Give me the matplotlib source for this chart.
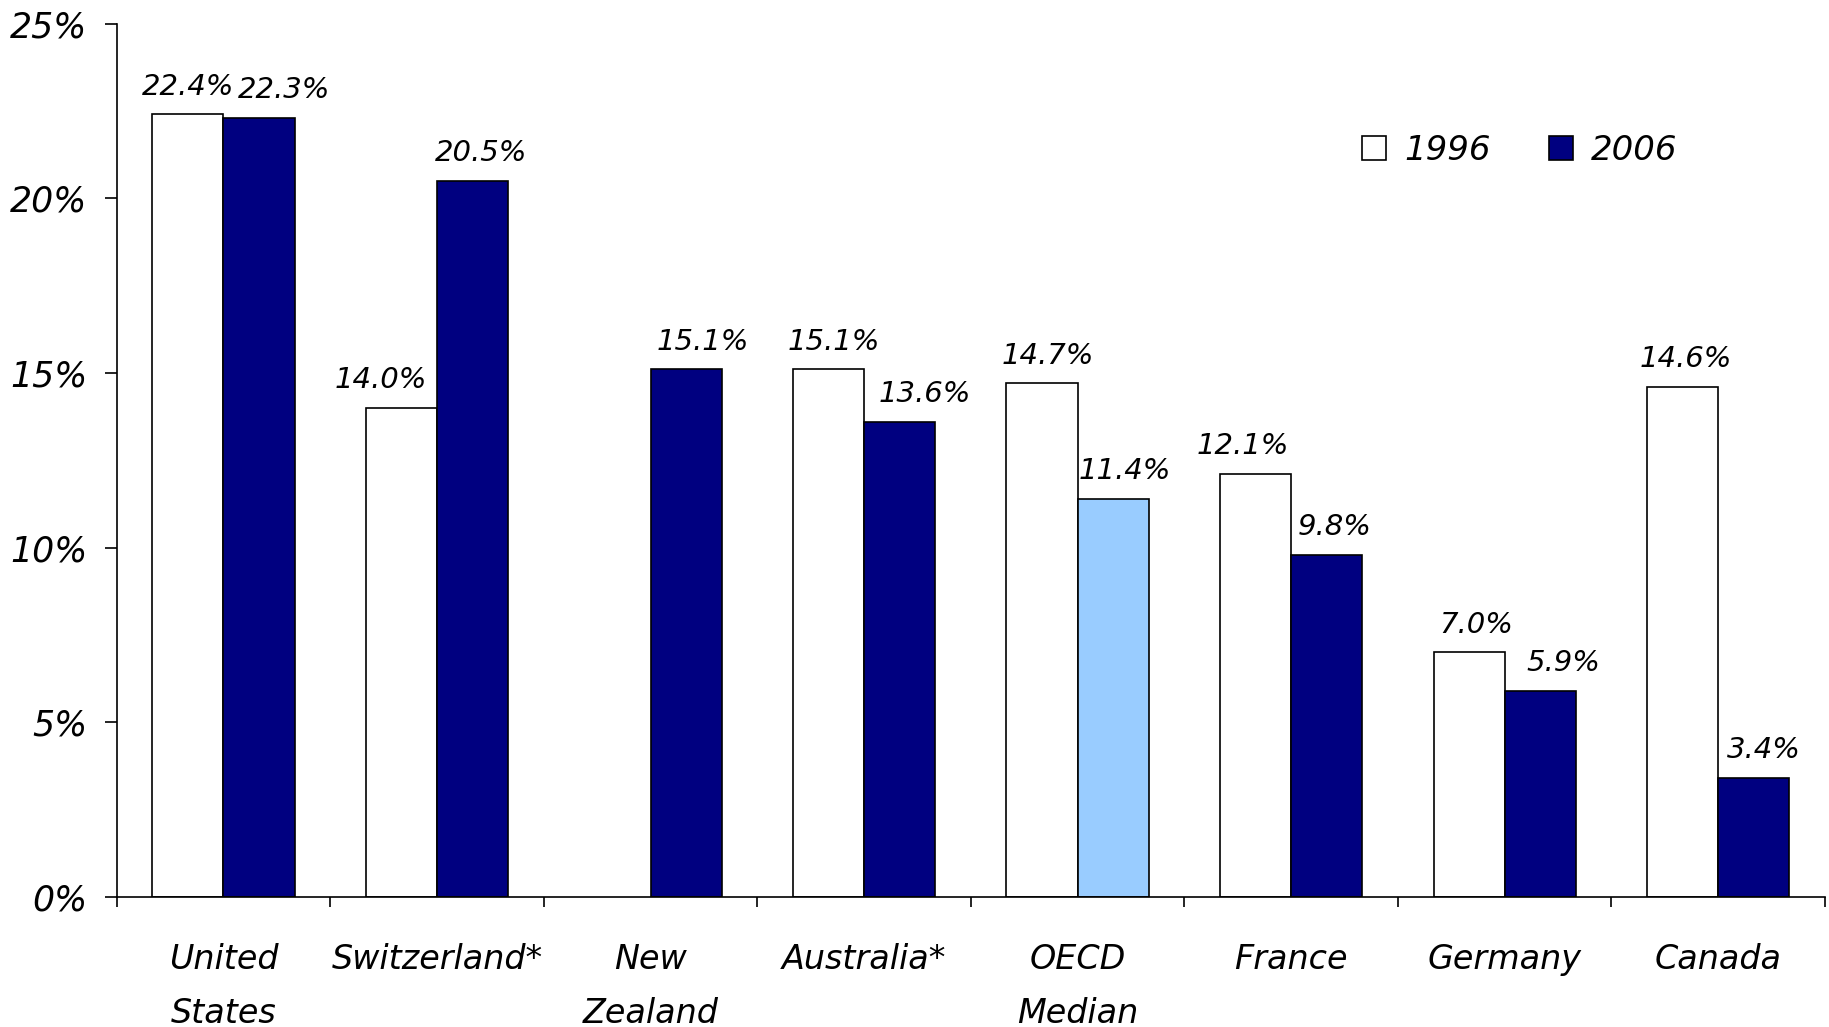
import numpy as np
import matplotlib.pyplot as plt
from matplotlib.ticker import FuncFormatter

categorie = ["United\nStates", "Switzerland*", "New\nZealand", "Australia*",
             "OECD\nMedian", "France", "Germany", "Canada"]
valori_1996 = [22.4, 14.0, np.nan, 15.1, 14.7, 12.1, 7.0, 14.6]
valori_2006 = [22.3, 20.5, 15.1, 13.6, 11.4, 9.8, 5.9, 3.4]
anni = ["1996", "2006"]

# spostamenti orizzontali delle etichette (punti), come nell'originale
nudge_1996 = [0, -15, 0, 4, 4, -9, 5, 2]
nudge_2006 = [18, 6, 12, 18, 8, 6, 17, 7]

plt.rcParams["font.family"] = "DejaVu Sans"
plt.rcParams["font.style"] = "italic"

fig = plt.figure(figsize=(18.29, 10.27), dpi=100)
ax = fig.add_axes([0.0638, 0.1266, 0.934, 0.8505])

x = np.arange(len(categorie))
w = 0.333
colori_2006 = ["#000080"] * len(categorie)
colori_2006[4] = "#99CCFF"

ax.bar(x - w / 2, valori_1996, w, color="white", edgecolor="black",
       linewidth=1.2, label=anni[0])
ax.bar(x + w / 2, valori_2006, w, color=colori_2006, edgecolor="black",
       linewidth=1.2, label=anni[1])

for xi, v, dx in zip(x - w / 2, valori_1996, nudge_1996):
    if not np.isnan(v):
        ax.annotate(f"{v:.1f}%", (xi, v), xytext=(dx, 20), textcoords="offset points",
                    ha="center", va="center", fontsize=21)
for xi, v, dx in zip(x + w / 2, valori_2006, nudge_2006):
    ax.annotate(f"{v:.1f}%", (xi, v), xytext=(dx, 20), textcoords="offset points",
                ha="center", va="center", fontsize=21)

ax.set_xlim(-0.5, len(categorie) - 0.5)
ax.set_ylim(0, 25)
ax.set_yticks([0, 5, 10, 15, 20, 25])
ax.yaxis.set_major_formatter(FuncFormatter(lambda v, p: f"{v:.0f}%"))
ax.tick_params(axis="y", labelsize=25, length=9, width=1.2, pad=12)

ax.set_xticks(x)
ax.set_xticklabels(categorie, fontsize=24, linespacing=1.8, va="top")
ax.tick_params(axis="x", which="major", length=0, pad=33)
ax.set_xticks(np.arange(-0.5, len(categorie)), minor=True)
ax.tick_params(axis="x", which="minor", length=7, width=1.2)

for s in ["top", "right"]:
    ax.spines[s].set_visible(False)
for s in ["left", "bottom"]:
    ax.spines[s].set_linewidth(1.2)

ax.legend(loc="center left", bbox_to_anchor=(0.711, 0.855), ncol=2, frameon=False,
          fontsize=24.5, handlelength=0.7, handleheight=0.7,
          handletextpad=0.55, columnspacing=1.7)

fig.savefig("out.png", dpi=100)
